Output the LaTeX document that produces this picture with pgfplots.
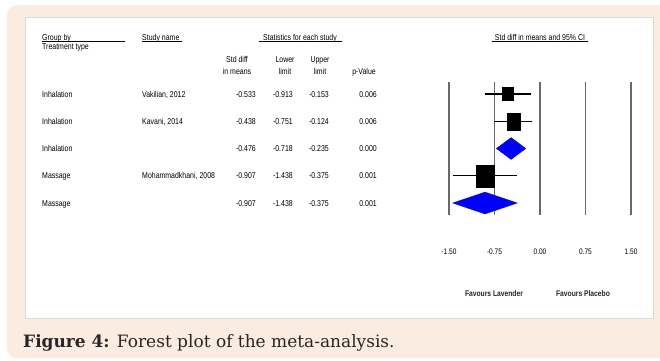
\documentclass[border=0pt]{standalone}
\usepackage{fontspec}
\usepackage{pgfplots}
\pgfplotsset{compat=1.18}
\setmainfont{Liberation Sans}
\newfontfamily\nar[FakeStretch=0.82]{Liberation Sans}
\newfontfamily\capfont{DejaVu Serif}
\definecolor{peach}{RGB}{251,236,226}
\definecolor{gridc}{RGB}{105,105,105}
\definecolor{diam}{RGB}{0,0,255}

\begin{document}
\begin{tikzpicture}
\begin{scope}[x=1bp,y=-1bp]
\useasboundingbox (0,0) rectangle (660,360);
\fill[white] (0,0) rectangle (660,360);
\fill[peach, rounded corners=10bp] (7,5) rectangle (700,358);
\fill[white, draw=black!15, line width=0.8bp] (25,17) rectangle (653,318);
\tikzset{tx/.style={font=\nar\fontsize{8.5bp}{10bp}\selectfont, inner sep=0pt, text=black},
         fv/.style={font=\nar\bfseries\fontsize{8.2bp}{10bp}\selectfont, inner sep=0pt, text=black!85}}
% header row
\node[tx, anchor=base west] at (42,40) {Group by};
\node[tx, anchor=base west] at (42,49) {Treatment type};
\draw[line width=0.6bp] (42,41.5) -- (125,41.5);
\node[tx, anchor=base west] at (142,40) {Study name};
\draw[line width=0.6bp] (142,41.5) -- (182,41.5);
\node[tx, anchor=base] at (300,40) {Statistics for each study};
\draw[line width=0.6bp] (259,41.5) -- (342,41.5);
\node[tx, anchor=base] at (540,40) {Std diff in means and 95\% CI};
\draw[line width=0.6bp] (492,41.5) -- (588,41.5);
% column headers
\node[tx, anchor=base] at (237,62) {Std diff};
\node[tx, anchor=base] at (237,74) {in means};
\node[tx, anchor=base] at (285,62) {Lower};
\node[tx, anchor=base] at (285,74) {limit};
\node[tx, anchor=base] at (320,62) {Upper};
\node[tx, anchor=base] at (320,74) {limit};
\node[tx, anchor=base] at (364,74) {p-Value};
% rows
\foreach \yy/\g/\s/\e/\lo/\up/\p in {
  97/Inhalation/{Vakilian, 2012}/-0.533/-0.913/-0.153/0.006,
  124.25/Inhalation/{Kavani, 2014}/-0.438/-0.751/-0.124/0.006,
  151.5/Inhalation/{}/-0.476/-0.718/-0.235/0.000,
  178.75/Massage/{Mohammadkhani, 2008}/-0.907/-1.438/-0.375/0.001,
  206/Massage/{}/-0.907/-1.438/-0.375/0.001}{
  \node[tx, anchor=base west] at (42,\yy) {\g};
  \node[tx, anchor=base west] at (142,\yy) {\s};
  \node[tx, anchor=base east] at (256,\yy) {\e};
  \node[tx, anchor=base east] at (293,\yy) {\lo};
  \node[tx, anchor=base east] at (329,\yy) {\up};
  \node[tx, anchor=base east] at (377,\yy) {\p};
}
\node[fv, anchor=base] at (494,296) {Favours Lavender};
\node[fv, anchor=base] at (583,296) {Favours Placebo};
% caption
\node[anchor=base west, inner sep=0pt, font=\capfont\fontsize{17bp}{19bp}\selectfont, text=black!85] at (23,347.5) {\textbf{Figure 4:} Forest plot of the meta-analysis.};
\end{scope}

\begin{axis}[
  at={(449bp,-215bp)}, anchor=south west,
  scale only axis, width=182bp, height=133bp,
  xmin=-1.5, xmax=1.5, ymin=0.56, ymax=5.44, y dir=reverse,
  axis line style={draw=none},
  ytick=\empty,
  xtick={-1.5,-0.75,0,0.75,1.5},
  xticklabels={-1.50,-0.75,0.00,0.75,1.50},
  major tick length=0pt,
  xmajorgrids, grid style={gridc, line width=1.2bp},
  xticklabel style={font=\nar\fontsize{8bp}{9bp}\selectfont, yshift=-30bp},
  clip=false,
]
% confidence intervals
\addplot[black, line width=1.3bp] coordinates {(-0.913,1) (-0.153,1)};
\addplot[black, line width=1.3bp] coordinates {(-0.751,2) (-0.124,2)};
\addplot[black, line width=1.3bp] coordinates {(-1.438,4) (-0.375,4)};
% study boxes
\addplot[only marks, mark=square*, mark size=6.5bp, mark options={fill=black, draw=black, xscale=0.85}] coordinates {(-0.533,1)};
\addplot[only marks, mark=square*, mark size=8.5bp, mark options={fill=black, draw=black, xscale=0.78}] coordinates {(-0.438,2)};
\addplot[only marks, mark=square*, mark size=11bp, mark options={fill=black, draw=black, xscale=0.8}] coordinates {(-0.907,4)};
% summary diamonds
\addplot[fill=diam, draw=diam] coordinates {(-0.718,3) (-0.476,2.6) (-0.235,3) (-0.476,3.4)} -- cycle;
\addplot[fill=diam, draw=diam] coordinates {(-1.438,5) (-0.907,4.6) (-0.375,5) (-0.907,5.4)} -- cycle;
\end{axis}
\end{tikzpicture}
\end{document}
